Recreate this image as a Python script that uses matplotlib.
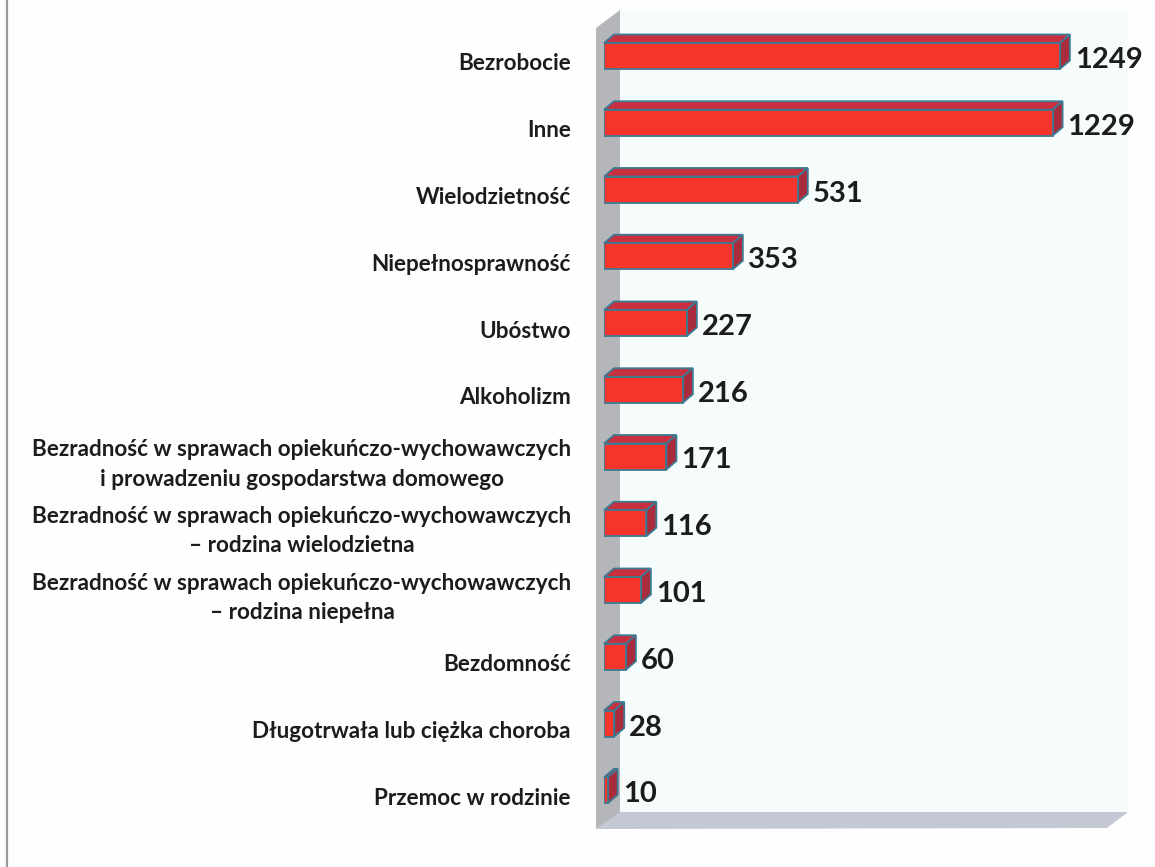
import matplotlib
matplotlib.use("Agg")
import matplotlib.pyplot as plt
from matplotlib.patches import Polygon

# values, top bar first
categories = [
    "Bezrobocie",
    "Inne",
    "Wielodzietność",
    "Niepełnosprawność",
    "Ubóstwo",
    "Alkoholizm",
    "Bezradność w sprawach opiekuńczo-wychowawczych\ni prowadzeniu gospodarstwa domowego",
    "Bezradność w sprawach opiekuńczo-wychowawczych\n– rodzina wielodzietna",
    "Bezradność w sprawach opiekuńczo-wychowawczych\n– rodzina niepełna",
    "Bezdomność",
    "Długotrwała lub ciężka choroba",
    "Przemoc w rodzinie",
]
values = [1249, 1229, 531, 353, 227, 216, 171, 116, 101, 60, 28, 10]

W, H = 1155, 867
RED = "#f5342b"
TOP = "#c8303f"
SIDE = "#a92c3d"
EDGE = "#3c7a94"
TEXT = "#1c1c1c"

plt.rcParams["font.family"] = ["Lato", "DejaVu Sans"]
fig = plt.figure(figsize=(W / 100, H / 100), dpi=100, facecolor="#fefefe")

# page layer in pixel coordinates: frame, tinted plot area, wall and floor
bg = fig.add_axes([0, 0, 1, 1])
bg.set_xlim(0, W)
bg.set_ylim(H, 0)
bg.axis("off")
bg.plot([7, 7], [0, 867], color="#9a9a9a", lw=1.6)
bg.add_patch(Polygon([(620, 10), (1128, 10), (1128, 812), (620, 812)], fc="#f6fbfb", ec="none"))
bg.add_patch(Polygon([(596, 28), (620, 10), (620, 813), (596, 829)], fc="#b5b6ba", ec="none"))
bg.add_patch(Polygon([(596, 829), (620, 812), (1128, 812), (1107, 828)], fc="#c4c8d4", ec="none"))

# bars: 0.365 px per unit, 66.75 px between rows
x0, x1 = 604, 1130
y_first, step = 56, 66.75
y_top, y_bot = 10, 840
ax = fig.add_axes([x0 / W, 1 - y_bot / H, (x1 - x0) / W, (y_bot - y_top) / H])
ax.set_xlim(0, (x1 - x0) / 0.365)
ax.set_ylim((y_bot - y_first) / step, (y_top - y_first) / step)
ax.axis("off")
ax.patch.set_alpha(0)

rows = list(range(len(values)))
thick = 26 / step
dx = 10 / 0.365
dy = 8.5 / step

for r, v in zip(rows, values):
    t = r - thick / 2
    b = r + thick / 2
    ax.add_patch(Polygon([(0, t), (dx, t - dy), (v + dx, t - dy), (v, t)],
                         fc=TOP, ec=EDGE, lw=1.3, clip_on=False))
    ax.add_patch(Polygon([(v, t), (v + dx, t - dy), (v + dx, b - dy), (v, b)],
                         fc=SIDE, ec=EDGE, lw=1.3, clip_on=False))
ax.barh(rows, values, height=thick, color=RED, edgecolor=EDGE, linewidth=1.3)

for r, v, name in zip(rows, values, categories):
    ax.annotate(str(v), (v + dx, r), xytext=(5, -4), textcoords="offset pixels",
                ha="left", va="center", fontsize=21, fontweight="bold", color=TEXT)
    if "\n" in name:
        # two-line labels are centred on one another, not flush right
        ax.annotate(name, (0, r), xytext=(302 - x0, -8), textcoords="offset pixels",
                    ha="center", va="center", fontsize=16.2, fontweight="bold", color=TEXT,
                    linespacing=1.5, multialignment="center")
    else:
        ax.annotate(name, (0, r), xytext=(-33, -8), textcoords="offset pixels",
                    ha="right", va="center", fontsize=16.2, fontweight="bold", color=TEXT)

fig.savefig("out.png", dpi=100, facecolor=fig.get_facecolor())
